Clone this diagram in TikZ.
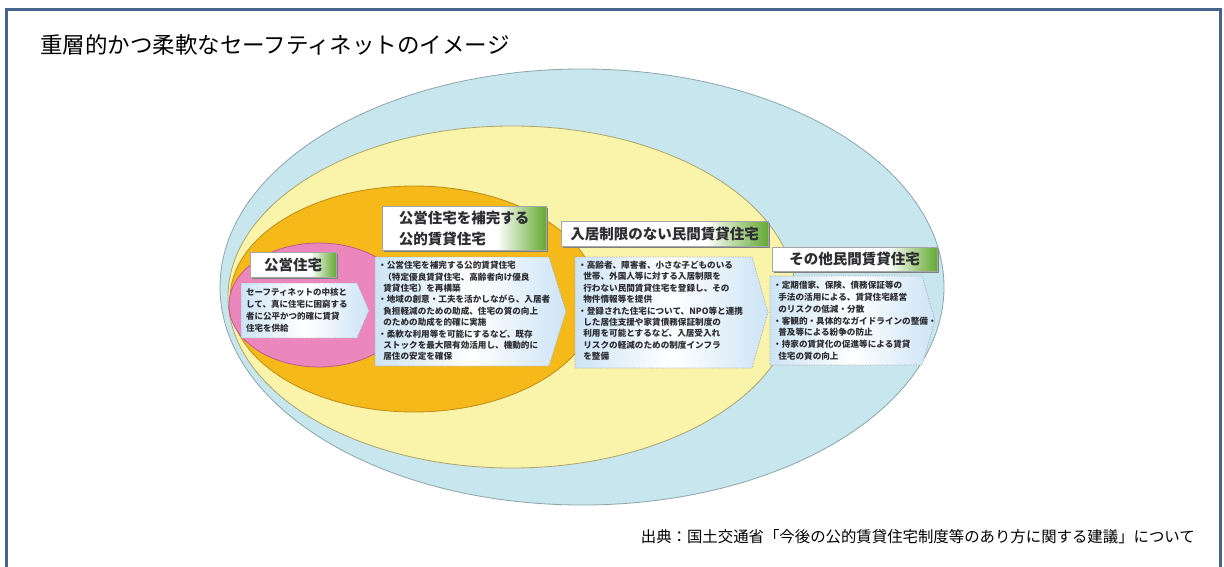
\documentclass[tikz,border=0pt]{standalone}
\usepackage{fontspec}
\setmainfont{Noto Sans CJK JP}
\definecolor{framec}{RGB}{68,100,140}
\definecolor{blueE}{RGB}{200,230,237}
\definecolor{blueEd}{RGB}{140,165,170}
\definecolor{yellowE}{RGB}{250,243,170}
\definecolor{yellowEd}{RGB}{170,165,110}
\definecolor{orangeE}{RGB}{245,185,25}
\definecolor{orangeEd}{RGB}{190,140,20}
\definecolor{pinkE}{RGB}{236,135,190}
\definecolor{pinkEd}{RGB}{190,90,140}
\definecolor{lgreen}{RGB}{100,170,50}
\definecolor{boxblue}{RGB}{205,228,246}
\definecolor{txtc}{RGB}{45,45,50}
\newcommand\lblbox[4]{%
  \fill[black!50] ({#1+2},{#2+2}) rectangle ({#3+2},{#4+2});
  \fill[white] (#1,#2) rectangle (#3,#4);
  \shade[left color=white, right color=lgreen] ({#3-0.3*(#3-#1)},#2) rectangle (#3,#4);
  \draw[gray!70, line width=0.6pt] (#1,#2) rectangle (#3,#4);
}
\newcommand\chevbox[5]{%
  \shade[shading=axis, shading angle=60, left color=boxblue, right color=boxblue, middle color=white]
    (#1,#2) -- (#3,#2) -- (#5,{(#2+#4)/2}) -- (#3,#4) -- (#1,#4) -- cycle;
  \draw[gray!70, densely dotted, line width=0.7pt]
    (#1,#2) -- (#3,#2) -- (#5,{(#2+#4)/2}) -- (#3,#4) -- (#1,#4) -- cycle;
}
\begin{document}
\begin{tikzpicture}[x=1pt,y=-1pt,
  lbl/.style={font=\fontsize{14.5}{21}\selectfont\bfseries, text=txtc, inner sep=0pt, align=left},
  txt/.style={font=\fontsize{8.6}{11.4}\selectfont\bfseries, text=txtc, inner sep=0pt, align=left, anchor=north west},
  ell/.style={line width=0.8pt}]
\useasboundingbox (0,0) rectangle (1224,567);
% frame
\draw[framec, line width=3pt] (6.5,567) -- (6.5,9.5) -- (1220.5,9.5) -- (1220.5,567);
% title
\node[anchor=west, inner sep=0pt, font=\fontsize{22.5}{26}\selectfont] (title) at (40,45) {重層的かつ柔軟なセーフティネットのイメージ};
% ellipses
\draw[ell, fill=blueE, draw=blueEd] (582,287) ellipse [x radius=362pt, y radius=218pt];
\draw[ell, fill=yellowE, draw=yellowEd] (512,297) ellipse [x radius=284pt, y radius=171pt];
\draw[ell, fill=orangeE, draw=orangeEd] (414,299) ellipse [x radius=184pt, y radius=113pt];
\draw[ell, fill=pinkE, draw=pinkEd] (319,305) ellipse [x radius=90pt, y radius=62pt];
% text boxes
\chevbox{241}{283}{357}{338}{369}
\chevbox{375}{257}{549}{366}{566}
\chevbox{575}{257}{752}{368}{768}
\chevbox{770}{276}{922}{365}{935}
% labels
\lblbox{250}{252}{336}{277}
\node[lbl] (l1) at (293,264.5) {公営住宅};
\lblbox{382}{206}{546}{250}
\node[lbl] (l2) at (464,228) {公営住宅を補完する\\公的賃貸住宅};
\lblbox{561}{221}{768}{246}
\node[lbl] (l3) at (664.5,233.5) {入居制限のない民間賃貸住宅};
\lblbox{772}{247}{937}{271}
\node[lbl] (l4) at (854.5,259) {その他民間賃貸住宅};
% texts
\node[txt, font=\fontsize{8.5}{12}\selectfont\bfseries] (t1) at (246,288) {セーフティネットの中核と\\して、真に住宅に困窮する\\者に公平かつ的確に賃貸\\住宅を供給};
\node[txt] (t2) at (378,261) {・公営住宅を補完する公的賃貸住宅\\
\hspace{0.6em}（特定優良賃貸住宅、高齢者向け優良\\
\hspace{0.6em}賃貸住宅）を再構築\\
・地域の創意・工夫を活かしながら、入居者\\
\hspace{0.6em}負担軽減のための助成、住宅の質の向上\\
\hspace{0.6em}のための助成を的確に実施\\
・柔軟な利用等を可能にするなど、既存\\
\hspace{0.6em}ストックを最大限有効活用し、機動的に\\
\hspace{0.6em}居住の安定を確保};
\node[txt] (t3) at (578,261) {・高齢者、障害者、小さな子どものいる\\
\hspace{0.6em}世帯、外国人等に対する入居制限を\\
\hspace{0.6em}行わない民間賃貸住宅を登録し、その\\
\hspace{0.6em}物件情報等を提供\\
・登録された住宅について、NPO等と連携\\
\hspace{0.6em}した居住支援や家賃債務保証制度の\\
\hspace{0.6em}利用を可能とするなど、入居受入れ\\
\hspace{0.6em}リスクの軽減のための制度インフラ\\
\hspace{0.6em}を整備};
\node[txt, font=\fontsize{8.6}{11.8}\selectfont\bfseries] (t4) at (773,281) {・定期借家、保険、債務保証等の\\
\hspace{0.6em}手法の活用による、賃貸住宅経営\\
\hspace{0.6em}のリスクの低減・分散\\
・客観的・具体的なガイドラインの整備・\\
\hspace{0.6em}普及等による紛争の防止\\
・持家の賃貸化の促進等による賃貸\\
\hspace{0.6em}住宅の質の向上};
% footer
\node[anchor=east, inner sep=0pt, font=\fontsize{15.4}{18}\selectfont] (src) at (1195,537) {出典：国土交通省「今後の公的賃貸住宅制度等のあり方に関する建議」について};
\end{tikzpicture}
\end{document}
